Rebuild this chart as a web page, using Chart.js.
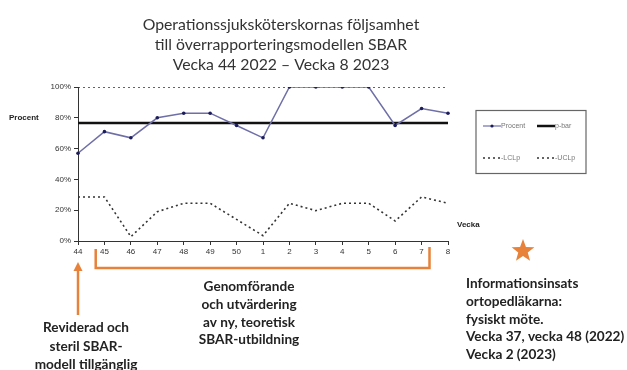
<!DOCTYPE html>
<html>
<head>
<meta charset="utf-8">
<script src="https://cdn.jsdelivr.net/npm/chart.js@4/dist/chart.umd.min.js"></script>
<style>
  html, body { margin: 0; padding: 0; background: #fff; }
  #wrap { width: 627px; height: 370px; position: relative; }
</style>
</head>
<body>
<div id="wrap"><canvas id="c" width="627" height="370"></canvas></div>
<script>
// Veckor (kategorier) och andelar i procent
const weeks = ['44', '45', '46', '47', '48', '49', '50', '1', '2', '3', '4', '5', '6', '7', '8'];
const procent = [57, 71, 67, 80, 83, 83, 75, 67, 100, 100, 100, 100, 75, 86, 83];
const pBar = [76.6, 76.6, 76.6, 76.6, 76.6, 76.6, 76.6, 76.6, 76.6, 76.6, 76.6, 76.6, 76.6, 76.6, 76.6];
const lclp = [28.6, 28.6, 2.8, 19, 24.5, 24.5, 14, 3.5, 24.5, 19.7, 24.5, 24.5, 13, 28.6, 24.5];
const uclp = [100, 100, 100, 100, 100, 100, 100, 100, 100, 100, 100, 100, 100, 100, 100];
const yTicks = [0, 20, 40, 60, 80, 100];

const titleLines = [
  'Operationssjuksköterskornas följsamhet',
  'till överrapporteringsmodellen SBAR',
  'Vecka 44 2022 – Vecka 8 2023'
];

const ORANGE = '#E8823A';
const LINE_BLUE = '#6F6FA8';
const DOT_NAVY = '#1C1C5A';
const DOTTED = '#333333';

// Titel, axeltitlar, förklaring och kommentarer ritas här
const extras = {
  id: 'extras',
  afterDraw(chart) {
    const ctx = chart.ctx;
    const x = chart.scales.x;
    ctx.save();

    // Titel
    ctx.fillStyle = '#333';
    ctx.textAlign = 'center';
    ctx.textBaseline = 'middle';
    ctx.font = '15.8px Lato';
    titleLines.forEach((t, i) => ctx.fillText(t, 281, 25 + i * 20));

    // Axeltitlar
    ctx.font = 'bold 8px Arial';
    ctx.fillStyle = '#222';
    ctx.textAlign = 'left';
    ctx.fillText('Procent', 9, 118);
    ctx.fillText('Vecka', 457, 225);

    // Förklaring
    const ds = chart.data.datasets;
    ctx.strokeStyle = '#666';
    ctx.lineWidth = 1.2;
    ctx.strokeRect(476, 110.5, 110, 63);
    const items = [
      { d: ds[0], lx: 483, y: 126 },
      { d: ds[1], lx: 537, y: 126 },
      { d: ds[2], lx: 483, y: 158 },
      { d: ds[3], lx: 537, y: 158 }
    ];
    ctx.font = '7px Arial';
    items.forEach(it => {
      ctx.beginPath();
      ctx.strokeStyle = it.d.borderColor;
      ctx.lineWidth = it.d.label === 'p-bar' ? 2.5 : (it.d.borderDash.length ? 1.3 : 1.2);
      ctx.setLineDash(it.d.borderDash);
      ctx.moveTo(it.lx, it.y);
      ctx.lineTo(it.lx + 18, it.y);
      ctx.stroke();
      ctx.setLineDash([]);
      if (it.d.pointRadius > 0) {
        ctx.beginPath();
        ctx.fillStyle = it.d.pointBackgroundColor;
        ctx.arc(it.lx + 9, it.y, 1.6, 0, Math.PI * 2);
        ctx.fill();
      }
      ctx.fillStyle = '#777';
      ctx.textAlign = 'left';
      ctx.fillText((it.d.borderDash.length ? '-' : '') + it.d.label, it.lx + 18, it.y);
    });

    // Pil under vecka 44
    const ax = x.getPixelForValue(0);
    ctx.strokeStyle = ORANGE;
    ctx.fillStyle = ORANGE;
    ctx.lineWidth = 2.5;
    ctx.beginPath();
    ctx.moveTo(ax, 315);
    ctx.lineTo(ax, 270);
    ctx.stroke();
    ctx.beginPath();
    ctx.moveTo(ax, 262);
    ctx.lineTo(ax - 4.5, 271);
    ctx.lineTo(ax + 4.5, 271);
    ctx.closePath();
    ctx.fill();

    // Klammer vecka 45 – vecka 7
    const bl = x.getPixelForValue(0.67);
    const br = x.getPixelForValue(13.3);
    ctx.lineWidth = 2.5;
    ctx.lineJoin = 'miter';
    ctx.beginPath();
    ctx.moveTo(bl, 249);
    ctx.lineTo(bl, 268);
    ctx.lineTo(br, 268);
    ctx.lineTo(br, 247);
    ctx.stroke();

    // Stjärna
    const sx = 523, sy = 251, ro = 12, ri = 5;
    ctx.beginPath();
    for (let i = 0; i < 10; i++) {
      const r = i % 2 === 0 ? ro : ri;
      const a = -Math.PI / 2 + i * Math.PI / 5;
      const px = sx + r * Math.cos(a), py = sy + r * Math.sin(a);
      if (i === 0) ctx.moveTo(px, py); else ctx.lineTo(px, py);
    }
    ctx.closePath();
    ctx.fill();

    // Kommentarstexter
    ctx.fillStyle = '#222';
    ctx.font = 'bold 13.6px Lato';
    ctx.textAlign = 'center';
    ['Genomförande', 'och utvärdering', 'av ny, teoretisk', 'SBAR-utbildning']
      .forEach((t, i) => ctx.fillText(t, 249, 287 + i * 17.7));
    ['Reviderad och', 'steril SBAR-', 'modell tillgänglig']
      .forEach((t, i) => ctx.fillText(t, 86, 328 + i * 18.5));
    ctx.textAlign = 'left';
    ['Informationsinsats', 'ortopedläkarna:', 'fysiskt möte.', 'Vecka 37, vecka 48 (2022)', 'Vecka 2 (2023)']
      .forEach((t, i) => ctx.fillText(t, 466, 284 + i * 17.7));

    ctx.restore();
  }
};

new Chart(document.getElementById('c'), {
  type: 'line',
  data: {
    labels: weeks,
    datasets: [
      {
        label: 'Procent', data: procent, borderColor: LINE_BLUE, borderWidth: 1.5,
        pointRadius: 1.8, pointBackgroundColor: DOT_NAVY, pointBorderColor: DOT_NAVY,
        pointBorderWidth: 0, borderDash: [], tension: 0, order: 0
      },
      {
        label: 'p-bar', data: pBar, borderColor: '#111', borderWidth: 2.5,
        pointRadius: 0, borderDash: [], tension: 0, order: 1
      },
      {
        label: 'LCLp', data: lclp, borderColor: DOTTED, borderWidth: 1.6,
        pointRadius: 0, borderDash: [2, 3], tension: 0, order: 2
      },
      {
        label: 'UCLp', data: uclp, borderColor: DOTTED, borderWidth: 1.6,
        pointRadius: 0, borderDash: [2, 3], tension: 0, order: 3
      }
    ]
  },
  options: {
    responsive: false,
    animation: false,
    layout: { padding: { left: 38, right: 179, top: 87, bottom: 109 } },
    plugins: { legend: { display: false }, title: { display: false }, tooltip: { enabled: false } },
    scales: {
      x: {
        offset: false,
        grid: { display: true, drawOnChartArea: false, drawTicks: true, tickLength: 4, color: '#333' },
        border: { color: '#333', width: 1 },
        ticks: { color: '#333', font: { family: 'Arial', size: 8 }, padding: 2, maxRotation: 0, autoSkip: false },
        afterFit(s) { s.height = 20; }
      },
      y: {
        min: 0, max: 100,
        afterBuildTicks(s) { s.ticks = yTicks.map(v => ({ value: v })); },
        grid: { display: true, drawOnChartArea: false, drawTicks: true, tickLength: 4, color: '#333' },
        border: { color: '#333', width: 1 },
        ticks: { color: '#333', font: { family: 'Arial', size: 8 }, padding: 3, callback: v => v + '%' },
        afterFit(s) { s.width = 40; }
      }
    }
  },
  plugins: [extras]
});
</script>
</body>
</html>
